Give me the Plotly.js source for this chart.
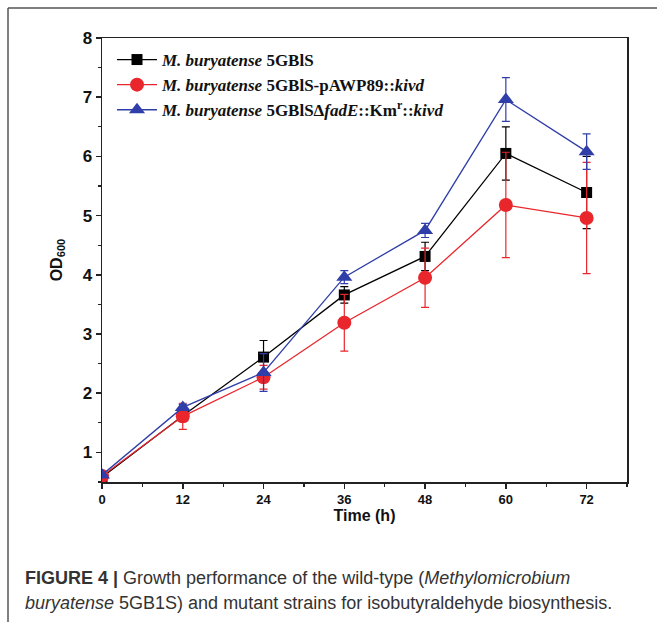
<!DOCTYPE html>
<html>
<head>
<meta charset="utf-8">
<script src="https://cdn.plot.ly/plotly-3.0.1.min.js"></script>
<style>html,body{margin:0;padding:0;background:#fff;}#chart{width:657px;height:627px;}</style>
</head>
<body>
<div id="chart"></div>
<script>
const timeH = [0, 12, 24, 36, 48, 60, 72];

const wildName = '<b><i>M. buryatense</i> 5GBlS</b>';
const wildOD = [0.58, 1.62, 2.61, 3.66, 4.31, 6.05, 5.39];
const wildErr = [0.03, 0.10, 0.28, 0.14, 0.24, 0.45, 0.61];

const kivdName = '<b><i>M. buryatense</i> 5GBlS-pAWP89::<i>kivd</i></b>';
const kivdOD = [0.60, 1.61, 2.27, 3.19, 3.95, 5.18, 4.96];
const kivdErr = [0.03, 0.22, 0.20, 0.48, 0.50, 0.89, 0.94];

const fadEName = '<b><i>M. buryatense</i> 5GBlSΔ<i>fadE</i>::Km<sup>r</sup>::<i>kivd</i></b>';
const fadEOD = [0.62, 1.76, 2.35, 3.96, 4.75, 6.96, 6.08];
const fadEErr = [0.03, 0.05, 0.32, 0.11, 0.12, 0.37, 0.30];

const xTickVals = [0, 12, 24, 36, 48, 60, 72];
const yTickVals = [1, 2, 3, 4, 5, 6, 7, 8];

function series(name, y, err, color, symbol, size) {
  return {
    x: timeH, y: y, name: name, type: 'scatter', mode: 'lines+markers',
    line: {color: color, width: 1.3},
    marker: {color: color, symbol: symbol, size: size, line: {width: 0}},
    error_y: {type: 'data', array: err, visible: true, color: color, thickness: 1.2, width: 4}
  };
}

const data = [
  series(wildName, wildOD, wildErr, '#000000', 'square', 11),
  series(kivdName, kivdOD, kivdErr, '#e8262c', 'circle', 14),
  series(fadEName, fadEOD, fadEErr, '#2f3ea8', 'triangle-up', 14)
];

const L = 102, R = 627, T = 38, B = 482;
const px = v => (v - L) / (R - L);
const py = v => (B - v) / (B - T);

const layout = {
  width: 657, height: 627,
  margin: {l: L, r: 657 - R, t: T, b: 627 - B, pad: 0},
  paper_bgcolor: '#ffffff', plot_bgcolor: '#ffffff',
  showlegend: true,
  legend: {
    x: px(112), y: py(42), xanchor: 'left', yanchor: 'top',
    font: {family: 'Liberation Serif', size: 17, color: '#111'},
    bgcolor: 'rgba(0,0,0,0)', itemwidth: 40, tracegroupgap: 0
  },
  xaxis: {
    range: [0, 78], tickvals: xTickVals, ticktext: xTickVals.map(String),
    showgrid: false, zeroline: false, showline: true, linecolor: '#222', linewidth: 1.5,
    mirror: true, ticks: 'outside', ticklen: 5, tickwidth: 1.5, tickcolor: '#222',
    minor: {dtick: 6, ticks: 'outside', ticklen: 3, tickwidth: 1.2, tickcolor: '#222', showgrid: false},
    tickfont: {family: 'Liberation Sans', size: 13, color: '#111', weight: 'bold'},
    title: {text: '<b>Time (h)</b>', font: {family: 'Liberation Sans', size: 16, color: '#111'}, standoff: 2}
  },
  yaxis: {
    range: [0.5, 8], tickvals: yTickVals, ticktext: yTickVals.map(String),
    showgrid: false, zeroline: false, showline: true, linecolor: '#222', linewidth: 1.5,
    mirror: true, ticks: 'outside', ticklen: 5, tickwidth: 1.5, tickcolor: '#222',
    minor: {dtick: 0.5, ticks: 'outside', ticklen: 3, tickwidth: 1.2, tickcolor: '#222', showgrid: false},
    tickfont: {family: 'Liberation Sans', size: 17, color: '#111', weight: 'bold'},
    title: {text: '<b>OD<sub>600</sub></b>', font: {family: 'Liberation Sans', size: 16, color: '#111'}, standoff: 16}
  },
  shapes: [
    {type: 'line', xref: 'paper', yref: 'paper', x0: px(8), x1: px(657), y0: py(8), y1: py(8), line: {color: '#555', width: 1.5}},
    {type: 'line', xref: 'paper', yref: 'paper', x0: px(8), x1: px(8), y0: py(8), y1: py(622), line: {color: '#555', width: 1.5}}
  ],
  annotations: [
    {xref: 'paper', yref: 'paper', x: px(23), y: py(578), xanchor: 'left', yanchor: 'middle', showarrow: false,
     text: '<b>FIGURE 4 |</b> Growth performance of the wild-type (<i>Methylomicrobium</i>',
     font: {family: 'Liberation Sans', size: 18, color: '#333'}},
    {xref: 'paper', yref: 'paper', x: px(23), y: py(603), xanchor: 'left', yanchor: 'middle', showarrow: false,
     text: '<i>buryatense</i> 5GB1S) and mutant strains for isobutyraldehyde biosynthesis.',
     font: {family: 'Liberation Sans', size: 18, color: '#333'}}
  ]
};

Plotly.newPlot('chart', data, layout, {staticPlot: true, displayModeBar: false});
</script>
</body>
</html>
